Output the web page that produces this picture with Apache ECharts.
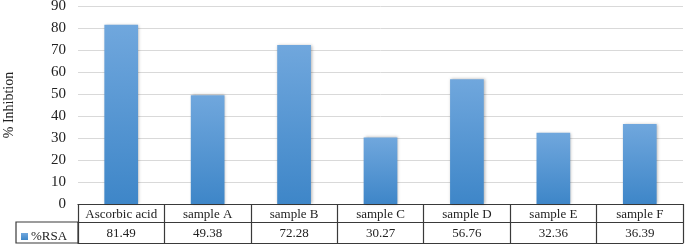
<!DOCTYPE html>
<html>
<head>
<meta charset="utf-8">
<script src="https://cdn.jsdelivr.net/npm/echarts@6/dist/echarts.min.js"></script>
<style>
  html, body { margin: 0; padding: 0; background: #fff; }
  #chart { width: 685px; height: 245px; }
</style>
</head>
<body>
<div id="chart"></div>
<script>
const categories = ['Ascorbic acid', 'sample A', 'sample B', 'sample C', 'sample D', 'sample E', 'sample F']
const rsa = [81.49, 49.38, 72.28, 30.27, 56.76, 32.36, 36.39]
const seriesName = '%RSA'
const yTicks = { min: 0, max: 90, interval: 10 }

const font = '"Liberation Serif", "Times New Roman", serif'
const border = '#3a3a3a'

const chart = echarts.init(document.getElementById('chart'), null, { renderer: 'canvas' })

const option = {
  animation: false,
  textStyle: { fontFamily: font },
  grid: { left: 78, right: 2, top: 6, bottom: 41, containLabel: false, outerBoundsMode: 'none' },
  legend: {
    data: [seriesName],
    left: 16, top: 225,
    icon: 'rect', itemWidth: 7, itemHeight: 7, itemGap: 2,
    textStyle: { fontFamily: font, fontSize: 13, color: '#222', padding: [0, 0, 0, -2] },
    selectedMode: false,
  },
  xAxis: [{
    type: 'category',
    data: categories,
    position: 'bottom',
    axisLine: { show: true, lineStyle: { color: border, width: 1.2 } },
    axisTick: { show: true, interval: 0, length: 39, lineStyle: { color: border, width: 1.2 } },
    axisLabel: { interval: 0, margin: 4, fontSize: 13, color: '#222', fontFamily: font },
  }, {
    type: 'category',
    data: categories,
    position: 'bottom',
    offset: 18,
    axisLine: { show: true, lineStyle: { color: border, width: 1.2 } },
    axisTick: { show: false },
    axisLabel: {
      interval: 0, margin: 5, fontSize: 13, color: '#222', fontFamily: font,
      formatter: (v, i) => rsa[i].toFixed(2),
    },
  }, {
    type: 'category',
    data: categories,
    position: 'bottom',
    offset: 39,
    axisLine: { show: true, lineStyle: { color: border, width: 1.2 } },
    axisTick: { show: false },
    axisLabel: { show: false },
  }],
  yAxis: {
    type: 'value',
    min: yTicks.min, max: yTicks.max, interval: yTicks.interval,
    name: '% Inhibtion',
    nameLocation: 'middle',
    nameGap: 62,
    nameTextStyle: { fontFamily: font, fontSize: 14, color: '#222' },
    axisLine: { show: false },
    axisTick: { show: false },
    axisLabel: { fontSize: 15, color: '#222', fontFamily: font, margin: 12 },
    splitLine: { lineStyle: { color: '#d9d9d9', width: 1 } },
  },
  graphic: [{
    type: 'rect',
    shape: { x: 16, y: 222, width: 62, height: 21 },
    style: { fill: 'none', stroke: border, lineWidth: 1.2 },
    z: 10,
  }],
  series: [{
    name: seriesName,
    type: 'bar',
    data: rsa,
    barWidth: '39%',
    itemStyle: {
      color: new echarts.graphic.LinearGradient(0, 0, 0, 1, [
        { offset: 0, color: '#70a7dd' },
        { offset: 1, color: '#3e86c8' },
      ]),
      shadowColor: 'rgba(0,0,0,0.3)',
      shadowBlur: 3,
      shadowOffsetX: 1,
    },
  }],
}

chart.setOption(option)
</script>
</body>
</html>
